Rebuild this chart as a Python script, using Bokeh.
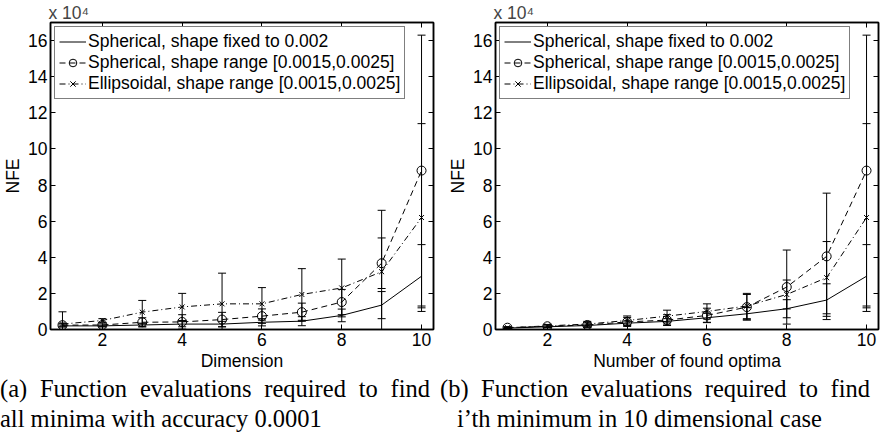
from bokeh.plotting import figure
from bokeh.models import (ColumnDataSource, FixedTicker, LinearAxis, Range1d,
                          Legend, LegendItem, Div)
from bokeh.layouts import row, column
from bokeh.embed import file_html
from bokeh.resources import INLINE

# ---------------- data (NFE in units of 10^4) ----------------
x_vals = [1, 2, 3, 4, 5, 6, 7, 8, 9, 10]
x_ticks = [2, 4, 6, 8, 10]
y_ticks = [0, 2, 4, 6, 8, 10, 12, 14, 16]

series_labels = ["Spherical, shape fixed to 0.002",
                 "Spherical, shape range [0.0015,0.0025]",
                 "Ellipsoidal, shape range [0.0015,0.0025]"]

# (a) all minima with accuracy 0.0001, vs dimension
fixed_mean_a = [0.20, 0.20, 0.25, 0.30, 0.30, 0.40, 0.46, 0.78, 1.35, 2.95]
fixed_err_a = [0.05, 0.05, 0.10, 0.15, 0.15, 0.20, 0.25, 0.35, 0.75, 1.75]
sphr_mean_a = [0.24, 0.25, 0.40, 0.42, 0.55, 0.74, 0.96, 1.52, 3.67, 8.80]
sphr_err_a = [0.10, 0.10, 0.25, 0.40, 0.40, 0.40, 0.50, 0.70, 1.40, 7.50]
ell_mean_a = [0.30, 0.50, 0.96, 1.25, 1.42, 1.42, 1.94, 2.30, 3.20, 6.20]
ell_err_a = [0.68, 0.10, 0.65, 0.75, 1.70, 0.90, 1.43, 1.60, 3.40, 5.20]

# (b) i'th minimum in 10-dimensional case, vs number of found optima
fixed_mean_b = [0.08, 0.15, 0.22, 0.35, 0.45, 0.65, 0.87, 1.15, 1.63, 2.95]
fixed_err_b = [0.03, 0.05, 0.08, 0.12, 0.15, 0.25, 0.35, 0.50, 0.90, 1.75]
sphr_mean_b = [0.10, 0.18, 0.25, 0.42, 0.52, 0.78, 1.24, 2.35, 4.05, 8.80]
sphr_err_b = [0.05, 0.08, 0.15, 0.25, 0.30, 0.40, 0.70, 2.05, 3.50, 7.50]
ell_mean_b = [0.10, 0.20, 0.30, 0.50, 0.74, 1.00, 1.30, 1.94, 2.87, 6.20]
ell_err_b = [0.05, 0.08, 0.15, 0.25, 0.33, 0.42, 0.70, 0.80, 2.00, 5.20]

FONT = "Liberation Sans"
FS = "17.5px"


def style_axis(ax, labels=True):
    ax.axis_line_color = "black"
    ax.axis_line_width = 1.5
    ax.major_tick_in = 5
    ax.major_tick_out = 0
    ax.minor_tick_in = 0
    ax.minor_tick_out = 0
    ax.major_tick_line_color = "black"
    ax.major_tick_line_width = 1
    ax.major_label_text_font = FONT
    ax.axis_label_text_font = FONT
    ax.axis_label_text_font_style = "normal"
    ax.axis_label_text_font_size = FS
    ax.axis_label_text_color = "black"
    if labels:
        ax.major_label_text_color = "black"
        ax.major_label_text_font_size = FS
        ax.major_label_standoff = 3
        ax.axis_label_standoff = 2
    else:
        # tick marks only (MATLAB box style): labels are not drawn
        ax.major_label_text_color = None
        ax.major_label_text_font_size = "1px"
        ax.major_label_standoff = 0


def make_plot(xlabel, fm, fe, sm, se, em, ee, left_b, right_b):
    p = figure(frame_width=383, frame_height=307,
               x_range=Range1d(0.7, 10.3), y_range=Range1d(0, 17),
               output_backend="svg", toolbar_location=None,
               min_border_left=left_b, min_border_right=right_b,
               min_border_top=0, min_border_bottom=0,
               title="x 10\u2074")
    p.title.text_font = FONT
    p.title.text_font_size = FS
    p.title.text_font_style = "normal"
    p.title.align = "left"
    p.title.standoff = 0
    p.title.offset = -2
    p.xgrid.visible = False
    p.ygrid.visible = False
    p.outline_line_color = "black"
    p.outline_line_width = 1.5
    p.outline_line_alpha = 1.0
    p.background_fill_color = "white"
    p.border_fill_color = "white"

    p.xaxis.ticker = FixedTicker(ticks=x_ticks)
    p.yaxis.ticker = FixedTicker(ticks=y_ticks)
    p.xaxis.axis_label = xlabel
    p.yaxis.axis_label = "NFE"
    for ax in p.xaxis:
        style_axis(ax)
    for ax in p.yaxis:
        style_axis(ax)

    top = LinearAxis(ticker=FixedTicker(ticks=x_ticks))
    style_axis(top, labels=False)
    p.add_layout(top, "above")
    right = LinearAxis(ticker=FixedTicker(ticks=y_ticks))
    style_axis(right, labels=False)
    p.add_layout(right, "right")

    specs = [(fm, fe, "solid", None), (sm, se, "6 4", "circle"), (em, ee, "6 3 1 3", "x")]
    items = []
    for (m, e, dash, marker), lab in zip(specs, series_labels):
        src = ColumnDataSource(dict(
            x=x_vals, y=m,
            lo=[a - b for a, b in zip(m, e)],
            hi=[a + b for a, b in zip(m, e)]))
        p.segment(x0="x", y0="lo", x1="x", y1="hi", source=src,
                  line_color="black", line_width=1)
        p.scatter(x="x", y="hi", source=src, marker="dash", size=8,
                  line_color="black", line_width=1)
        p.scatter(x="x", y="lo", source=src, marker="dash", size=8,
                  line_color="black", line_width=1)
        rends = [p.line(x="x", y="y", source=src, line_color="black",
                        line_width=1, line_dash=dash)]
        if marker is not None:
            rends.append(p.scatter(x="x", y="y", source=src, marker=marker,
                                   size=9 if marker == "circle" else 7,
                                   fill_color=None, line_color="black",
                                   line_width=1))
        items.append(LegendItem(label=lab, renderers=rends))

    leg = Legend(items=items, location="top_left")
    leg.label_text_font = FONT
    leg.label_text_font_size = FS
    leg.label_text_color = "black"
    leg.glyph_width = 27
    leg.glyph_height = 19
    leg.label_height = 19
    leg.label_standoff = 2
    leg.padding = 4
    leg.spacing = 0
    leg.margin = 4
    leg.border_line_color = "black"
    leg.border_line_width = 1.5
    leg.background_fill_color = "white"
    leg.background_fill_alpha = 1.0
    p.add_layout(leg, "center")
    return p


pa = make_plot("Dimension", fixed_mean_a, fixed_err_a, sphr_mean_a, sphr_err_a,
               ell_mean_a, ell_err_a, 42, 12)
pb = make_plot("Number of found optima", fixed_mean_b, fixed_err_b, sphr_mean_b,
               sphr_err_b, ell_mean_b, ell_err_b, 50, 4)

CAP = ("font-family:'Liberation Serif',serif;font-size:24.5px;line-height:30px;"
       "color:black;padding-top:1px;")
JUST = "display:block;width:430px;text-align:justify;text-align-last:justify;"
cap_a = Div(text=(f'<div style="{CAP}width:437px;">'
                  f'<div style="{JUST}">'
                  '(a) Function evaluations required to find</div>'
                  '<div>all minima with accuracy 0.0001</div></div>'),
            width=437, margin=(0, 0, 0, 0))
cap_b = Div(text=(f'<div style="{CAP}width:437px;padding-left:3px;">'
                  f'<div style="{JUST}">'
                  '(b) Function evaluations required to find</div>'
                  '<div style="padding-left:17px;">i\u2019th minimum in 10 dimensional case</div></div>'),
            width=437, margin=(0, 0, 0, 0))

layout = column(row(pa, pb), row(cap_a, cap_b))
open("out.html", "w").write(file_html(layout, INLINE))
